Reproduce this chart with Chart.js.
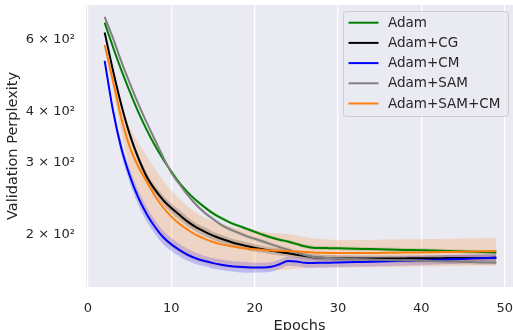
<!DOCTYPE html>
<html><head><meta charset="utf-8">
<script src="https://cdn.jsdelivr.net/npm/chart.js@4/dist/chart.umd.min.js"></script>
<style>html,body{margin:0;padding:0;background:#fff}#wrap{width:513px;height:330px;position:relative}</style>
</head><body><div id="wrap"><canvas id="c" width="513" height="330"></canvas></div>
<script>
const epochs = [2,3,4,5,6,7,8,9,10,11,12,13,14,15,16,17,18,19,20,21,22,23,24,25,26,27,28,29,30,31,32,33,34,35,36,37,38,39,40,41,42,43,44,45,46,47,48,49];
const xTicks = [0,10,20,30,40,50];
const yTicks = [200,300,400,600];
const labels = ['Adam','Adam+CG','Adam+CM','Adam+SAM','Adam+SAM+CM'];

const adam = [660,575,505,448,400,362,331,306, 285,267,253,242,233,225,219,214,210,206.5, 203,199.5,196.5,194,192,189.5,187,185.5,185.2,185, 184.8,184.6,184.4,184.2,184,183.8,183.6,183.4,183.2,183, 182.8,182.6,182.3,182.1,181.8,181.6,181.3,181.1,180.8,180.6];
const adamCG = [624,504,415,352,309,278,258,243, 232,223,214.5,208,203,198.5,195,192,189.3,187.2, 185.4,183.8,182.3,181,179.7,178.3,177,175.8,175.3,175, 174.8,174.7,174.6,174.5,174.5,174.5,174.5,174.6,174.6,174.7, 174.7,174.8,174.8,174.9,174.9,175,175,175.1,175.1,175.2];
const adamCM = [532,402,325,279,247,225,209,197, 189,183,178,174.5,172,170,168.5,167.3,166.5,166, 165.8,165.8,166.5,169,172,171.5,170.4,170.2,170.3,170.4, 170.6,170.8,171,171.2,171.4,171.6,171.8,172,172.2,172.4, 172.6,172.9,173.2,173.5,173.8,174.1,174.4,174.7,175,175.3];
const adamSAM = [682,605,530,470,419,377,342,310, 283,265,249,236,226,218,211,206,202,198, 195,192,189,186,183.5,180.5,178,176,175.3,175, 174.7,174.4,174.1,173.8,173.5,173.3,173.1,172.9,172.7,172.5, 172.3,172.1,171.9,171.7,171.5,171.2,171,170.7,170.5,170.3];
const adamSAMCM = [582,474,385,328,294,270,249,233, 221,212,205,199,195,191.5,189,187.3,185.8,184.7, 183.8,183.1,182.6,182.3,182,181.6,181.1,180.6,180.3,180.1, 180,179.9,179.9,179.9,180,180.1,180.2,180.3,180.4,180.5, 180.6,180.8,180.9,181.1,181.2,181.4,181.5,181.7,181.8,182];

const adamStd = [3,3,3,3,3,2.5,2.5,2.5, 2,2,2,2,2,2,2,2,2,2, 2,2,2,2,2,2,2,2,2,2, 2,2,2,2,2,2,2,2,2,2, 2,2,2,2,2,2,2,2,2,2];
const adamCGStd = [5,6,6,6,6,6,6,6, 6,6,5.5,5,5,4.5,4.5,4,4,4, 4,3.5,3.5,3.5,3,3,3,3,3,3, 3,3,3,3,3,3,3,3,3,3, 3,3,3,3,3,3,3,3,3,3];
const adamCMStd = [5,10,11,11,10,9,8,7.5, 7,6.5,6,5.5,5,5,5,5,5,5, 4.5,4.5,4.5,4.5,4.5,4.5,4.5,4.5,4.5,4.5, 4.5,4.5,4.5,4.5,4.5,4.5,4.5,4.5,4.5,4.5, 4.5,4.5,4.5,4.5,4.5,4.5,4.5,4.5,4.5,4.5];
const adamSAMStd = [3,3,3,3,3,3,3,3, 3,2.5,2.5,2.5,2.5,2.5,2.5,2.5,2.5,2.5, 2.5,2.5,2.5,2.5,2.5,2.5,2.5,2.5,2.5,2.5, 2.5,2.5,2.5,2.5,2.5,2.5,2.5,2.5,2.5,2.5, 2.5,2.5,2.5,2.5,2.5,2.5,2.5,2.5,2.5,2.5];
const adamSAMCMStd = [6,18,30,38,42,42,41,38, 35,32,29,27,25,24,23,22,21,20.5, 20,19.5,19,18.5,18,17,16,15,14.5,14, 14,14,14,14,14,14,14,14,14,14, 14,14,14,14,14,14,14,14,14,14];

const colors = ['#008000','#000000','#0000ff','#808080','#ff7f0e'];
const bandColors = ['rgba(0,128,0,0.2)','rgba(0,0,0,0.2)','rgba(0,0,255,0.2)','rgba(128,128,128,0.2)','rgba(255,127,14,0.2)'];
const means = [adam, adamCG, adamCM, adamSAM, adamSAMCM];
const stds = [adamStd, adamCGStd, adamCMStd, adamSAMStd, adamSAMCMStd];

const datasets = [];
means.forEach((m, i) => {
  const s = stds[i];
  datasets.push({label: labels[i]+'_lo', data: epochs.map((e,j)=>({x:e, y:m[j]-s[j]})), borderWidth:0, pointRadius:0, fill:false, order: 20 - i, cubicInterpolationMode:'monotone'});
  datasets.push({label: labels[i]+'_hi', data: epochs.map((e,j)=>({x:e, y:m[j]+s[j]})), borderWidth:0, pointRadius:0, fill:'-1', backgroundColor: bandColors[i], order: 20 - i, cubicInterpolationMode:'monotone'});
});
means.forEach((m, i) => {
  datasets.push({label: labels[i], data: epochs.map((e,j)=>({x:e, y:m[j]})), borderColor: colors[i], borderWidth:2, pointRadius:0, fill:false, order: 10 - i, cubicInterpolationMode:'monotone'});
});

const FONT = 'DejaVu Sans';
const TXT = '#262626';

const bgPlugin = {
  id: 'bg',
  beforeDraw(chart) {
    const {ctx, chartArea: a} = chart;
    ctx.save();
    ctx.fillStyle = '#EAEAF2';
    ctx.fillRect(a.left, a.top, a.right - a.left, a.bottom - a.top);
    ctx.restore();
  }
};

const legendPlugin = {
  id: 'mylegend',
  afterDraw(chart) {
    const ctx = chart.ctx;
    ctx.save();
    const x = 343.5, y = 11.5, w = 165, h = 105, r = 3;
    ctx.beginPath();
    ctx.moveTo(x + r, y);
    ctx.arcTo(x + w, y, x + w, y + h, r);
    ctx.arcTo(x + w, y + h, x, y + h, r);
    ctx.arcTo(x, y + h, x, y, r);
    ctx.arcTo(x, y, x + w, y, r);
    ctx.closePath();
    ctx.fillStyle = 'rgba(234,234,242,0.8)';
    ctx.fill();
    ctx.strokeStyle = '#cccccc';
    ctx.lineWidth = 1;
    ctx.stroke();
    ctx.font = '13.5px "' + FONT + '"';
    ctx.textBaseline = 'middle';
    ctx.textAlign = 'left';
    labels.forEach((lab, i) => {
      const yy = 22.7 + i * 20.2;
      ctx.strokeStyle = colors[i];
      ctx.lineWidth = 2;
      ctx.beginPath();
      ctx.moveTo(348.5, yy);
      ctx.lineTo(378.5, yy);
      ctx.stroke();
      ctx.fillStyle = TXT;
      ctx.fillText(lab, 388, yy + 0.5);
    });
    ctx.restore();
  }
};

new Chart(document.getElementById('c'), {
  type: 'line',
  data: { datasets },
  options: {
    responsive: false,
    animation: false,
    devicePixelRatio: 1,
    layout: { padding: { top: 5, right: 0, left: 0, bottom: 0 } },
    plugins: { legend: { display: false }, tooltip: { enabled: false } },
    scales: {
      x: {
        type: 'linear', min: -0.24, max: 51.0,
        afterBuildTicks: (s) => { s.ticks = xTicks.map(v => ({value: v})); },
        afterFit: (s) => { s.height = 43; s.paddingLeft = 0; s.paddingRight = 0; },
        grid: { color: '#ffffff', lineWidth: 1.3, drawTicks: false },
        border: { display: false },
        ticks: { color: TXT, font: { family: FONT, size: 13 }, padding: 14, maxRotation: 0, callback: (v) => String(v) },
        title: { display: true, text: 'Epochs', color: TXT, font: { family: FONT, size: 14.5, lineHeight: 1 }, padding: { top: 0, bottom: -3 } }
      },
      y: {
        type: 'logarithmic', min: 148.6, max: 729,
        afterBuildTicks: (s) => { s.ticks = yTicks.map(v => ({value: v})); },
        afterFit: (s) => { s.width = 86; s.paddingTop = 0; s.paddingBottom = 0; },
        grid: { display: false, drawTicks: false },
        border: { display: false },
        ticks: { color: TXT, font: { family: FONT, size: 13 }, padding: 11, callback: (v) => (v / 100) + ' × 10²' },
        title: { display: true, text: 'Validation Perplexity', color: TXT, font: { family: FONT, size: 14.5, lineHeight: 1 }, padding: { top: 6, bottom: 0 } }
      }
    }
  },
  plugins: [bgPlugin, legendPlugin]
});
</script></body></html>
